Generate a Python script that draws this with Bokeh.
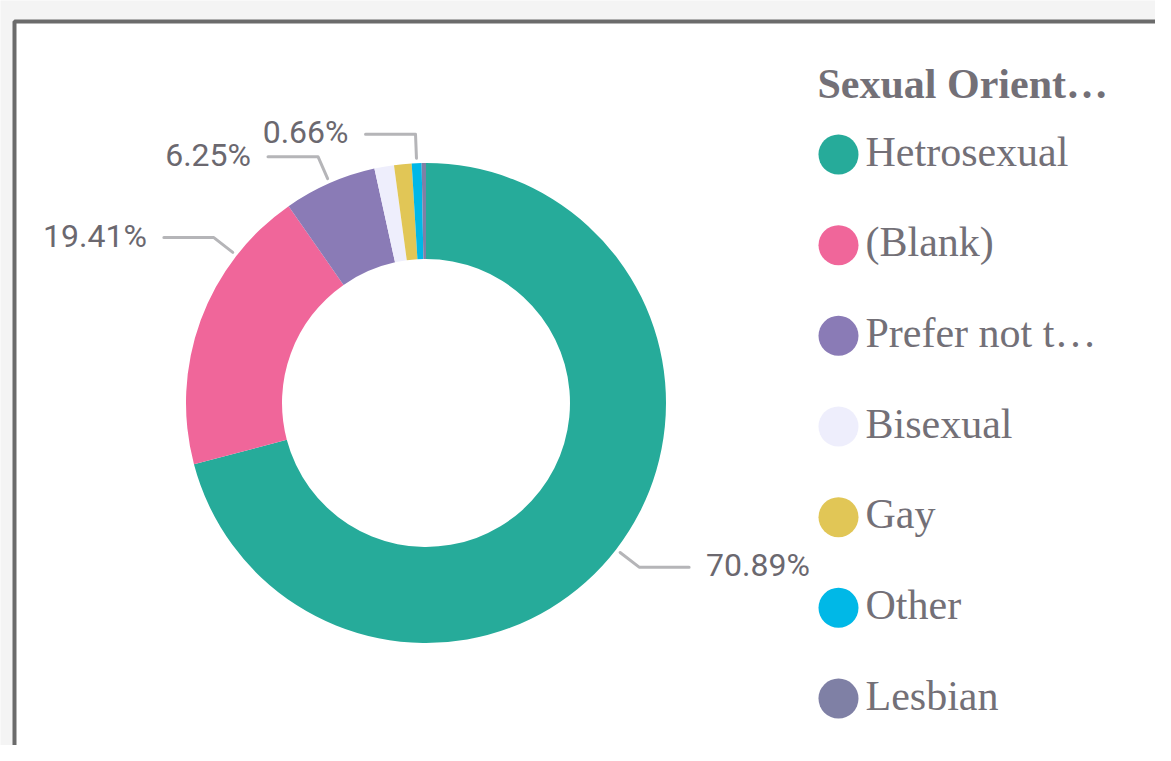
import numpy as np
from bokeh.plotting import figure
from bokeh.models import Range1d, ColumnDataSource
from bokeh.core.properties import value
from bokeh.embed import file_html
from bokeh.resources import INLINE

# ---- data ----
categories = ["Hetrosexual", "(Blank)", "Prefer not t…", "Bisexual", "Gay", "Other", "Lesbian"]
shares = [70.89, 19.41, 6.25, 1.32, 1.18, 0.66, 0.29]
colors = ["#26AB9A", "#F0669A", "#8A7BB6", "#EEEEFC", "#E1C656", "#00B8E7", "#7F80A5"]
labelled = ["Hetrosexual", "(Blank)", "Prefer not t…", "Other"]
legend_title = "Sexual Orient…"

# ---- layout / style ----
W, H = 1155, 745
VIEW_H = 761


def sy(y):
    """picture y (px from top) -> data y"""
    return VIEW_H - y


CX, CY = 425.5, sy(402.5)
R_OUT, R_IN = 240, 144
R_LEAD0, R_LEAD1 = 245, 269
LEAD_H = 50
GAP = 17
label_shift_deg = {"(Blank)": 17.8}   # label placement nudge (clockwise), styling only
TEXT_COL = "#6b686f"
LEG_COL = "#737077"

p = figure(width=W, height=H,
           x_range=Range1d(0, W), y_range=Range1d(VIEW_H - H, VIEW_H),
           output_backend="svg", toolbar_location=None, min_border=0)
p.axis.visible = False
p.grid.visible = False
p.outline_line_color = None
p.background_fill_color = "#f4f4f4"
p.border_fill_color = "#f4f4f4"

# visual frame
p.quad(left=[14], right=[1300], top=[sy(21)], bottom=[-100],
       fill_color="white", line_color="#6b6b6b", line_width=4)

# ---- donut ----
vals = np.array(shares, dtype=float)
frac = vals / vals.sum()
cum = np.cumsum(frac)
start = np.pi / 2 - 2 * np.pi * (cum - frac)
end = np.pi / 2 - 2 * np.pi * cum
src = ColumnDataSource(dict(cat=categories, start=start, end=end, color=colors))
p.annular_wedge(x=CX, y=CY, inner_radius=R_IN, outer_radius=R_OUT,
                start_angle="start", end_angle="end", direction="clock",
                fill_color="color", line_color=None, source=src)

# ---- leaders and labels ----
xs, ys, lx, ly, lt, la = [], [], [], [], [], []
for i, c in enumerate(categories):
    if c not in labelled:
        continue
    mid = np.pi / 2 - 2 * np.pi * (cum[i] - frac[i] / 2) - np.deg2rad(label_shift_deg.get(c, 0))
    ca, sa = np.cos(mid), np.sin(mid)
    x0, y0 = CX + R_LEAD0 * ca, CY + R_LEAD0 * sa
    x1, y1 = CX + R_LEAD1 * ca, CY + R_LEAD1 * sa
    side = 1 if ca > 0 else -1
    x2 = x1 + side * LEAD_H
    xs.append([x0, x1, x2])
    ys.append([y0, y1, y1])
    lx.append(x2 + side * GAP)
    ly.append(y1 - 9 + 11)
    lt.append(f"{shares[i]:.2f}%")
    la.append("left" if side > 0 else "right")

p.multi_line(xs=xs, ys=ys, line_color="#b5b5b8", line_width=3, line_cap="round", line_join="round")
p.text(x=lx, y=ly, text=lt, text_align=la, text_baseline="alphabetic",
       text_font=value("Roboto"), text_font_size="32px", text_color=TEXT_COL)

# ---- legend (drawn) ----
LEG_X = 838
LEG_Y0 = 154
LEG_DY = 90.67
leg_y = [sy(LEG_Y0 + LEG_DY * i) for i in range(len(categories))]
p.scatter(x=[LEG_X] * len(categories), y=leg_y, size=40, marker="circle",
          fill_color=colors, line_color=None)
p.text(x=[LEG_X + 27] * len(categories), y=[v - 13 + 16 for v in leg_y], text=categories,
       text_align="left", text_baseline="alphabetic",
       text_font=value("Liberation Serif"), text_font_size="42px", text_color=LEG_COL)
p.text(x=[817], y=[sy(99) + 16], text=[legend_title], text_align="left", text_baseline="alphabetic",
       text_font=value("Liberation Serif"), text_font_size="42px", text_font_style="bold",
       text_color=LEG_COL)

open("out.html", "w").write(file_html(p, INLINE))
